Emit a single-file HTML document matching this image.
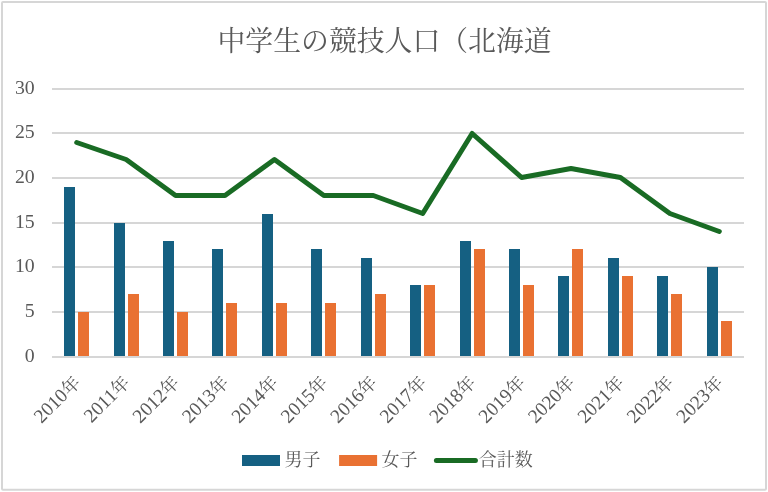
<!DOCTYPE html>
<html lang="ja"><head><meta charset="utf-8"><title>中学生の競技人口（北海道</title>
<style>html,body{margin:0;padding:0;background:#fff;}body{width:768px;height:492px;overflow:hidden;}svg{display:block;will-change:transform;}text{font-family:"Liberation Serif", "Noto Serif CJK JP", "Noto Serif CJK SC", serif;fill:#595959;}</style>
</head><body>
<svg width="768" height="492" viewBox="0 0 768 492">
<rect x="0" y="0" width="768" height="492" fill="#fff"/>
<rect x="2" y="2" width="764" height="487.8" rx="1" fill="#fff" stroke="#d6d6d6" stroke-width="2"/>
<line x1="52.00" y1="312.00" x2="744.00" y2="312.00" stroke="#d6d6d6" stroke-width="2"/>
<line x1="52.00" y1="267.00" x2="744.00" y2="267.00" stroke="#d6d6d6" stroke-width="2"/>
<line x1="52.00" y1="223.00" x2="744.00" y2="223.00" stroke="#d6d6d6" stroke-width="2"/>
<line x1="52.00" y1="178.00" x2="744.00" y2="178.00" stroke="#d6d6d6" stroke-width="2"/>
<line x1="52.00" y1="133.00" x2="744.00" y2="133.00" stroke="#d6d6d6" stroke-width="2"/>
<line x1="52.00" y1="89.00" x2="744.00" y2="89.00" stroke="#d6d6d6" stroke-width="2"/>
<text x="34.70" y="361.90" font-size="19.8" text-anchor="end">0</text>
<text x="34.70" y="316.90" font-size="19.8" text-anchor="end">5</text>
<text x="34.70" y="271.90" font-size="19.8" text-anchor="end">10</text>
<text x="34.70" y="227.90" font-size="19.8" text-anchor="end">15</text>
<text x="34.70" y="182.90" font-size="19.8" text-anchor="end">20</text>
<text x="34.70" y="137.90" font-size="19.8" text-anchor="end">25</text>
<text x="34.70" y="93.90" font-size="19.8" text-anchor="end">30</text>
<rect x="64" y="187" width="11" height="169" fill="#156082"/>
<rect x="78" y="312" width="11" height="44" fill="#e97132"/>
<rect x="114" y="223" width="11" height="133" fill="#156082"/>
<rect x="128" y="294" width="11" height="62" fill="#e97132"/>
<rect x="163" y="241" width="11" height="115" fill="#156082"/>
<rect x="177" y="312" width="11" height="44" fill="#e97132"/>
<rect x="212" y="249" width="11" height="107" fill="#156082"/>
<rect x="226" y="303" width="11" height="53" fill="#e97132"/>
<rect x="262" y="214" width="11" height="142" fill="#156082"/>
<rect x="276" y="303" width="11" height="53" fill="#e97132"/>
<rect x="311" y="249" width="11" height="107" fill="#156082"/>
<rect x="325" y="303" width="11" height="53" fill="#e97132"/>
<rect x="361" y="258" width="11" height="98" fill="#156082"/>
<rect x="375" y="294" width="11" height="62" fill="#e97132"/>
<rect x="410" y="285" width="11" height="71" fill="#156082"/>
<rect x="424" y="285" width="11" height="71" fill="#e97132"/>
<rect x="460" y="241" width="11" height="115" fill="#156082"/>
<rect x="474" y="249" width="11" height="107" fill="#e97132"/>
<rect x="509" y="249" width="11" height="107" fill="#156082"/>
<rect x="523" y="285" width="11" height="71" fill="#e97132"/>
<rect x="558" y="276" width="11" height="80" fill="#156082"/>
<rect x="572" y="249" width="11" height="107" fill="#e97132"/>
<rect x="608" y="258" width="11" height="98" fill="#156082"/>
<rect x="622" y="276" width="11" height="80" fill="#e97132"/>
<rect x="657" y="276" width="11" height="80" fill="#156082"/>
<rect x="671" y="294" width="11" height="62" fill="#e97132"/>
<rect x="707" y="267" width="11" height="89" fill="#156082"/>
<rect x="721" y="321" width="11" height="35" fill="#e97132"/>
<line x1="52.00" y1="357.00" x2="744.00" y2="357.00" stroke="#d6d6d6" stroke-width="2"/>
<polyline points="76.71,142.50 126.14,159.50 175.57,195.50 225.00,195.50 274.43,159.50 323.86,195.50 373.29,195.50 422.71,213.50 472.14,133.50 521.57,177.50 571.00,168.50 620.43,177.50 669.86,213.50 719.29,231.50" fill="none" stroke="#196b24" stroke-width="5" stroke-linecap="round" stroke-linejoin="round"/>
<text x="81.61" y="383.80" font-size="18" text-anchor="end" transform="rotate(-45 81.61 383.80)"><tspan font-size="19.4">2010</tspan>年</text>
<text x="131.04" y="383.80" font-size="18" text-anchor="end" transform="rotate(-45 131.04 383.80)"><tspan font-size="19.4">2011</tspan>年</text>
<text x="180.47" y="383.80" font-size="18" text-anchor="end" transform="rotate(-45 180.47 383.80)"><tspan font-size="19.4">2012</tspan>年</text>
<text x="229.90" y="383.80" font-size="18" text-anchor="end" transform="rotate(-45 229.90 383.80)"><tspan font-size="19.4">2013</tspan>年</text>
<text x="279.33" y="383.80" font-size="18" text-anchor="end" transform="rotate(-45 279.33 383.80)"><tspan font-size="19.4">2014</tspan>年</text>
<text x="328.76" y="383.80" font-size="18" text-anchor="end" transform="rotate(-45 328.76 383.80)"><tspan font-size="19.4">2015</tspan>年</text>
<text x="378.19" y="383.80" font-size="18" text-anchor="end" transform="rotate(-45 378.19 383.80)"><tspan font-size="19.4">2016</tspan>年</text>
<text x="427.61" y="383.80" font-size="18" text-anchor="end" transform="rotate(-45 427.61 383.80)"><tspan font-size="19.4">2017</tspan>年</text>
<text x="477.04" y="383.80" font-size="18" text-anchor="end" transform="rotate(-45 477.04 383.80)"><tspan font-size="19.4">2018</tspan>年</text>
<text x="526.47" y="383.80" font-size="18" text-anchor="end" transform="rotate(-45 526.47 383.80)"><tspan font-size="19.4">2019</tspan>年</text>
<text x="575.90" y="383.80" font-size="18" text-anchor="end" transform="rotate(-45 575.90 383.80)"><tspan font-size="19.4">2020</tspan>年</text>
<text x="625.33" y="383.80" font-size="18" text-anchor="end" transform="rotate(-45 625.33 383.80)"><tspan font-size="19.4">2021</tspan>年</text>
<text x="674.76" y="383.80" font-size="18" text-anchor="end" transform="rotate(-45 674.76 383.80)"><tspan font-size="19.4">2022</tspan>年</text>
<text x="724.19" y="383.80" font-size="18" text-anchor="end" transform="rotate(-45 724.19 383.80)"><tspan font-size="19.4">2023</tspan>年</text>
<text x="384.6" y="50.6" font-size="27.85" text-anchor="middle">中学生の競技人口（北海道</text>
<rect x="242" y="455" width="38" height="11" fill="#156082"/>
<text x="284.5" y="465.7" font-size="18">男子</text>
<rect x="339.1" y="455" width="38" height="11" fill="#e97132"/>
<text x="381.5" y="465.7" font-size="18">女子</text>
<line x1="436.4" y1="460.4" x2="475.4" y2="460.4" stroke="#196b24" stroke-width="5" stroke-linecap="round"/>
<text x="478.7" y="465.7" font-size="18">合計数</text>
</svg></body></html>
